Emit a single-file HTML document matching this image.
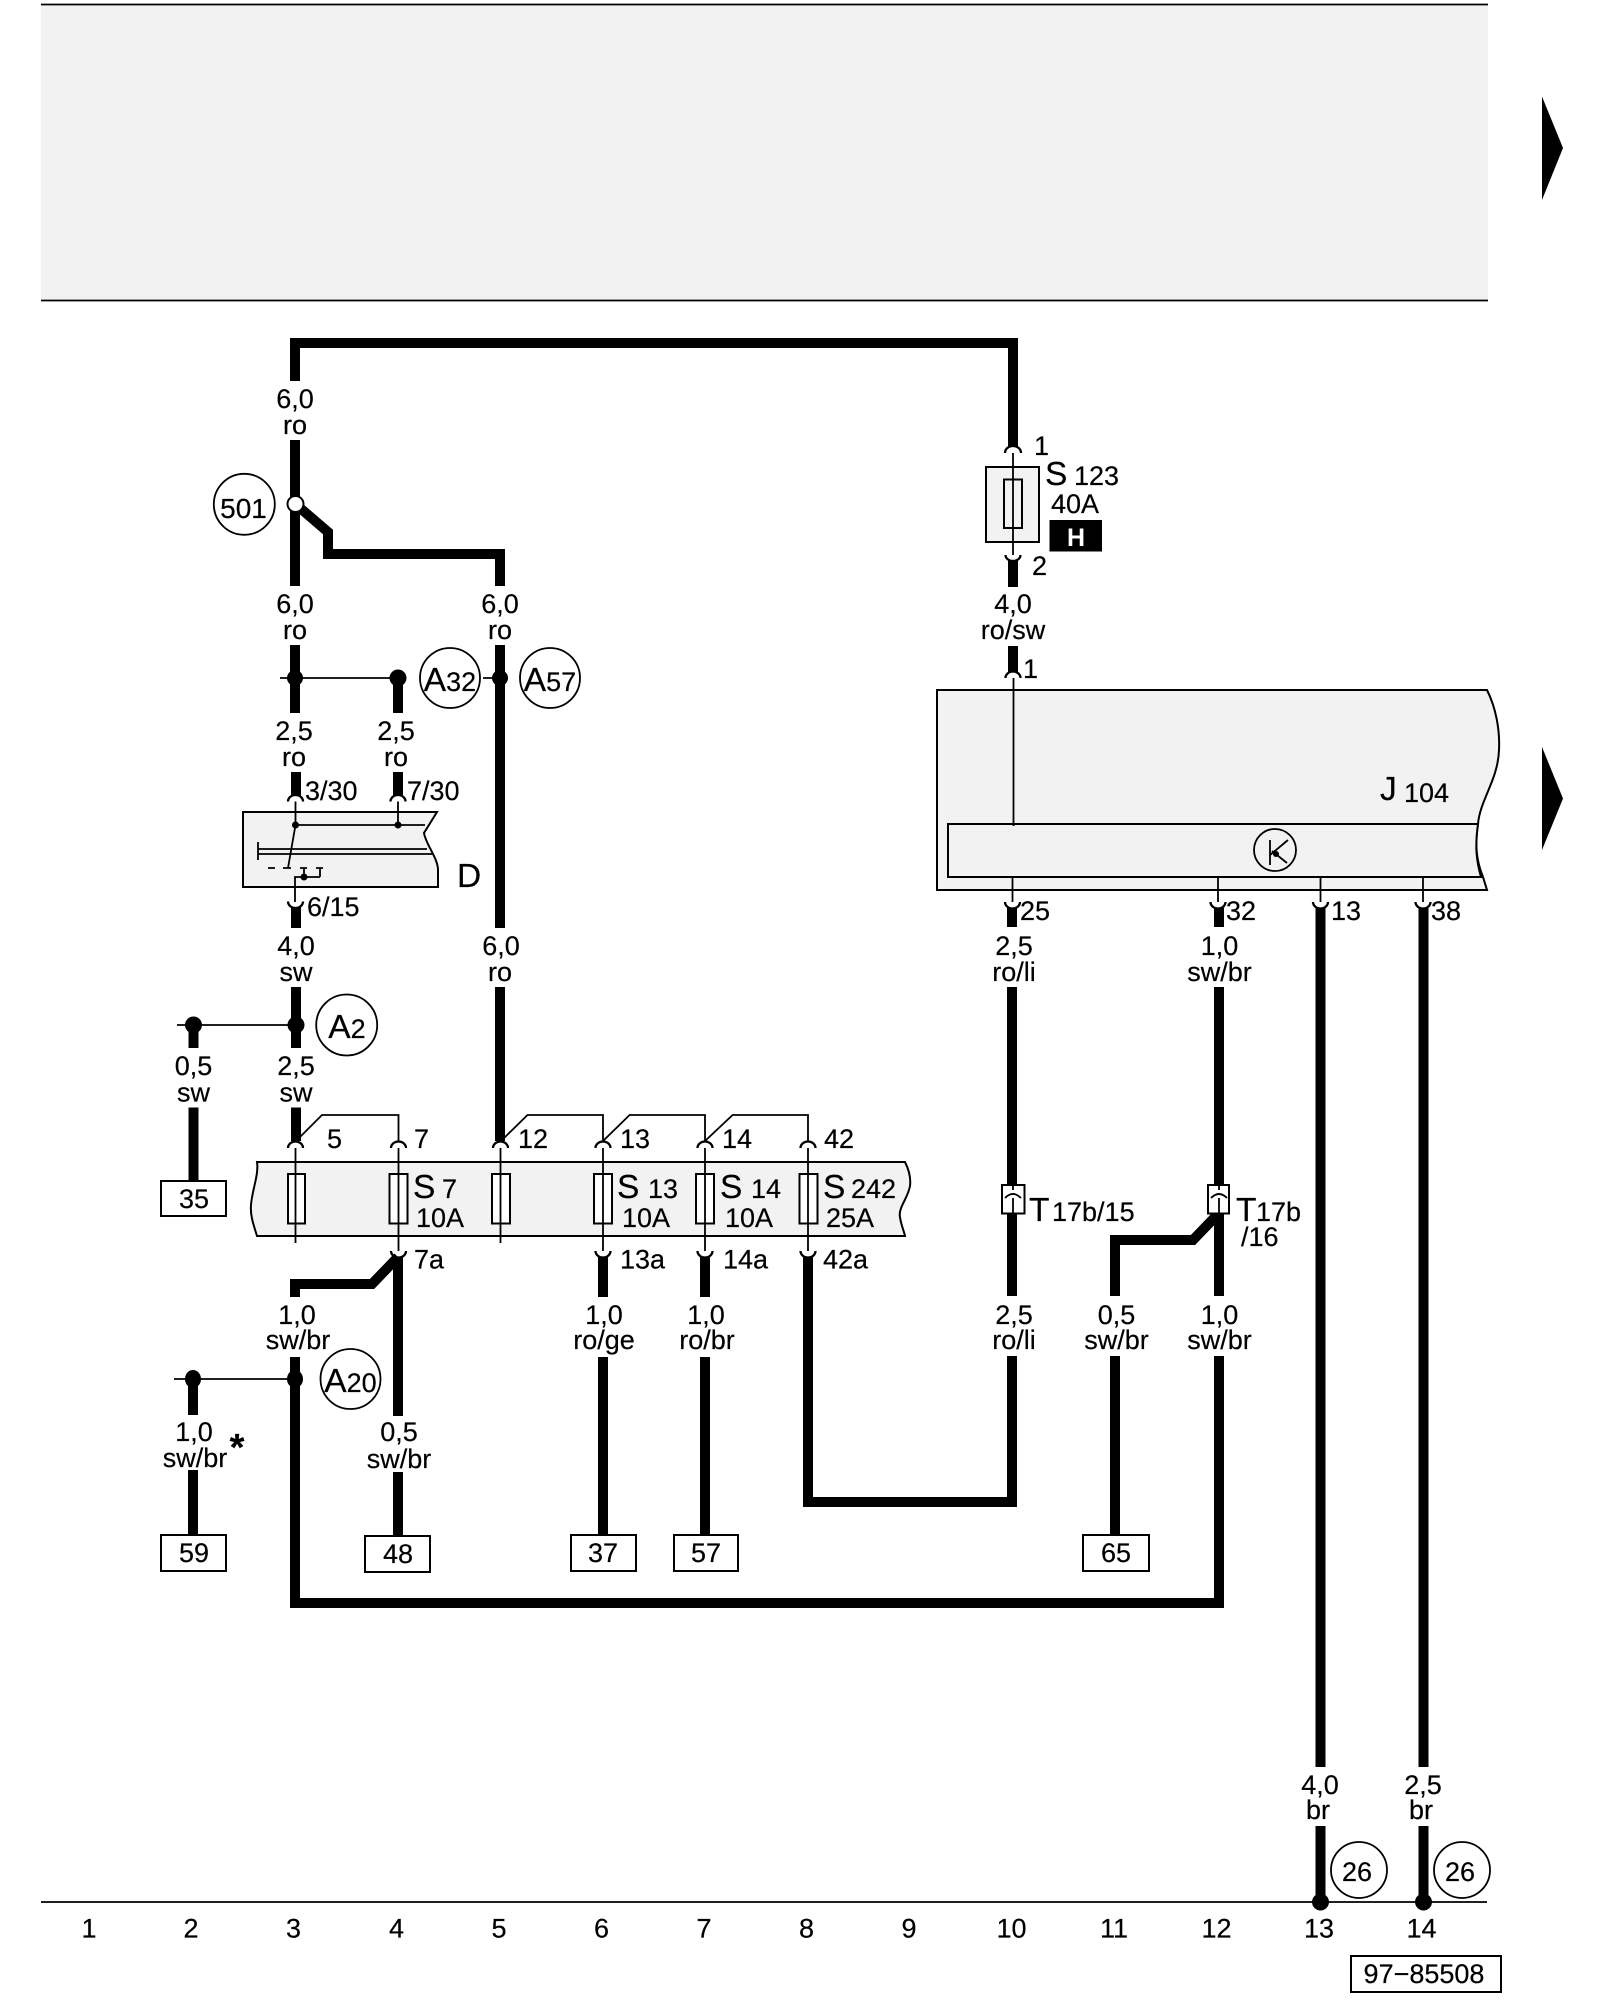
<!DOCTYPE html>
<html><head><meta charset="utf-8"><style>
html,body{margin:0;padding:0;background:#fff;width:1600px;height:2000px;overflow:hidden}
svg{display:block}
text{font-family:"Liberation Sans",sans-serif;font-size:27px;fill:#000;stroke:#000;stroke-width:.2}
.m{text-anchor:middle}
.b{font-size:33.5px}
.w{fill:none;stroke:#000;stroke-width:10;stroke-linejoin:miter}
.t{fill:none;stroke:#000;stroke-width:1.8}
.k{fill:none;stroke:#000;stroke-width:2.3}
.c{fill:#fff;stroke:#000;stroke-width:1.8}
.g{fill:#f2f2f2;stroke:#000;stroke-width:2}
.n{fill:#fff;stroke:#000;stroke-width:2}
</style></head><body>
<svg width="1600" height="2000" viewBox="0 0 1600 2000" xmlns="http://www.w3.org/2000/svg">
<!-- top panel -->
<rect x="41" y="4" width="1447" height="296" fill="#f2f2f2"/>
<path class="t" d="M41 4.500H1488M41 300.500H1488"/>
<polygon points="1542,96.500 1563,148 1542,200" fill="#000"/>
<polygon points="1542,747 1563,798.500 1542,850" fill="#000"/>
<!-- thick wires -->
<path class="w" d="M295 381V343H1013V447"/>
<path class="w" d="M295 440V586"/>
<path class="w" d="M300 508L328 532V554H500V586"/>
<path class="w" d="M295 645V713M398 678V713M500 645V928M500 987V1141"/>
<path class="w" d="M296 772V796M398 772V796M296 907V928M296 987V1048M296 1107.500V1141"/>
<path class="w" d="M193.500 1025V1048M193.500 1107.500V1180"/>
<path class="w" d="M398 1257V1416M398 1472V1535"/>
<path class="w" d="M398 1257L372 1284H295V1297"/>
<path class="w" d="M295 1357V1603H1219V1356"/>
<path class="w" d="M193 1379V1415M193 1470V1535"/>
<path class="w" d="M603 1257V1297M603 1357V1535M705 1257V1297M705 1357V1535"/>
<path class="w" d="M808 1257V1502H1012V1356"/>
<path class="w" d="M1012 1296V987M1012 927V908M1219 927V908M1219 1296V987"/>
<path class="w" d="M1219 1213L1193 1240H1115V1296M1115 1356V1535"/>
<path class="w" d="M1320.500 908V1767M1320.500 1826V1902M1423.500 908V1767M1423.500 1826V1902"/>
<path class="w" d="M1013 561V587M1013 646V672"/>
<!-- node dots -->
<circle cx="295.500" cy="504" r="8" fill="#fff" stroke="#000" stroke-width="2"/>
<g fill="#000">
<circle cx="295" cy="678" r="8"/><circle cx="398" cy="678" r="8.500"/><circle cx="500" cy="678" r="8"/>
<circle cx="296" cy="1025" r="8.500"/><circle cx="193.500" cy="1025" r="8.500"/>
<ellipse cx="295" cy="1379" rx="8" ry="9"/><ellipse cx="193" cy="1379" rx="8" ry="9"/>
<circle cx="1320.500" cy="1902" r="8.500"/><circle cx="1423.500" cy="1902" r="8.500"/>
</g>
<path class="t" d="M280 678H398M483 678H500M177 1025H296M174 1379H295"/>
<path class="t" d="M41 1902H1487"/>
<!-- D relay -->
<path class="g" d="M243 812H437L424 833C426 845 438 858 438 870V887H243Z"/>
<path class="t" d="M295.500 801.500V825L288 868M398 801.500V825M295 825H425M258 849H427M258 854H433M258 842V860M268 868H275M283 868H291M300 868H307M316 868H323M304 868V877M320 868V877M295 902V877H320"/>
<circle cx="295.500" cy="825" r="3.500"/><circle cx="398" cy="825" r="3.500"/><circle cx="304" cy="877" r="3.500"/>
<!-- arcs -->
<path class="k" d="M288 801.500A7.500 6.500 0 0 1 303 801.500M390.500 801.500A7.500 6.500 0 0 1 405.500 801.500M288 901.500A7.500 6.500 0 0 0 303 901.500"/>
<path class="k" d="M1005 453A8 7 0 0 1 1021 453M1005.500 678A7.500 6.500 0 0 1 1020.500 678M1005.500 555A7.500 6 0 0 0 1020.500 555"/>
<path class="k" d="M1005 902A7.500 6.500 0 0 0 1020 902M1210.500 902A7.500 6.500 0 0 0 1225.500 902M1313 902A7.500 6.500 0 0 0 1328 902M1415.500 902A7.500 6.500 0 0 0 1430.500 902"/>
<path class="k" d="M288 1148A7.500 6.500 0 0 1 303 1148M391 1148A7.500 6.500 0 0 1 406 1148M493 1148A7.500 6.500 0 0 1 508 1148M595.500 1148A7.500 6.500 0 0 1 610.500 1148M697.500 1148A7.500 6.500 0 0 1 712.500 1148M800.500 1148A7.500 6.500 0 0 1 815.500 1148"/>
<path class="k" d="M391 1251A7.500 6.500 0 0 0 406 1251M595.500 1251A7.500 6.500 0 0 0 610.500 1251M697.500 1251A7.500 6.500 0 0 0 712.500 1251M800.500 1251A7.500 6.500 0 0 0 815.500 1251"/>
<!-- fuse band -->
<path class="t" d="M296 1141L322 1115H398.500V1141M501 1141L527.500 1115H603V1141M603 1141L629.600 1115H705V1141M705 1141L732.600 1115H808V1141"/>
<path class="g" d="M257 1162H905C909 1170 911 1178 910 1186C908 1198 898 1208 900 1217C901 1225 904 1231 905 1236H257C254 1226 250 1216 251 1205C252 1190 259 1175 257 1162Z"/>
<g class="n"><rect x="288" y="1174" width="17" height="49.500"/><rect x="389.500" y="1174" width="18" height="49.500"/><rect x="492" y="1174" width="18" height="49.500"/><rect x="594" y="1174" width="18" height="49.500" /><rect x="696" y="1174" width="18" height="49.500"/><rect x="799.500" y="1174" width="18" height="49.500"/></g>
<path class="t" d="M295.500 1148V1243M398.500 1148V1251M500.500 1148V1243M603 1148V1251M705 1148V1251M808 1148V1251"/>
<!-- S123 -->
<rect class="g" x="986" y="467" width="53" height="75"/>
<rect class="g" x="1004" y="479.500" width="18" height="48.500"/>
<path class="t" d="M1013 453V555"/>
<rect x="1049.500" y="520" width="52.500" height="31.500" fill="#000"/>
<text x="1076" y="546" class="m" style="fill:#fff;stroke:none;font-weight:bold;font-size:25px">H</text>
<!-- J104 -->
<path class="g" d="M937 690H1487C1496 708 1500 730 1499 750C1498 780 1480 800 1478 824C1475 845 1476 860 1483 877L1487 890H937Z"/>
<path class="g" d="M948 824H1478C1475 845 1476 860 1481 877H948Z"/>
<path class="t" d="M1013.500 678V826M1012.500 877V902M1218 877V902M1320.500 877V902M1423 877V902"/>
<circle cx="1275" cy="850" r="21" fill="none" stroke="#000" stroke-width="1.800"/>
<path class="t" d="M1270 840V865M1270 855L1288 840M1272 851L1287 863"/>
<circle cx="1276" cy="854" r="3" fill="#000"/>
<!-- connectors T -->
<rect class="n" x="1002" y="1185" width="22.500" height="28.500"/>
<rect class="n" x="1208" y="1185" width="21" height="28.500"/>
<path class="t" d="M1013 1213V1198M1013 1185V1190M1005 1198Q1013 1190 1021 1198M1219 1213V1198M1219 1185V1190M1211 1198Q1219 1190 1227 1198"/>
<!-- circles -->
<circle class="c" cx="244.300" cy="504.300" r="30.500"/><circle class="c" cx="450" cy="678" r="30"/><circle class="c" cx="550" cy="678" r="30"/>
<circle class="c" cx="346.700" cy="1025" r="30.500"/><circle class="c" cx="350.500" cy="1379" r="30"/>
<circle class="c" cx="1359" cy="1870" r="28"/><circle class="c" cx="1462" cy="1870" r="28"/>
<text x="243.500" y="518" class="m" style="font-size:28px">501</text>
<text x="450" y="691" class="m"><tspan class="b">A</tspan>32</text>
<text x="550" y="691" class="m"><tspan class="b">A</tspan>57</text>
<text x="347" y="1038" class="m"><tspan class="b">A</tspan>2</text>
<text x="350.500" y="1392" class="m"><tspan class="b">A</tspan>20</text>
<text x="1357" y="1881" class="m">26</text><text x="1460" y="1881" class="m">26</text>
<!-- boxes -->
<g class="n"><rect x="161" y="1181" width="65" height="35"/><rect x="161" y="1535" width="65" height="36"/><rect x="365" y="1536" width="65" height="36"/><rect x="571" y="1535" width="65" height="36"/><rect x="674" y="1535" width="64" height="36"/><rect x="1083" y="1535" width="66" height="36"/><rect x="1351" y="1956" width="150" height="36"/></g>
<text x="194" y="1208" class="m">35</text><text x="194" y="1562" class="m">59</text><text x="398" y="1563" class="m">48</text><text x="603" y="1562" class="m">37</text><text x="706" y="1562" class="m">57</text><text x="1116" y="1562" class="m">65</text>
<text x="1424" y="1983" class="m">97−85508</text>
<!-- wire labels -->
<text x="295" y="408" class="m">6,0</text><text x="295" y="434" class="m">ro</text>
<text x="295" y="613" class="m">6,0</text><text x="295" y="639" class="m">ro</text>
<text x="500" y="613" class="m">6,0</text><text x="500" y="639" class="m">ro</text>
<text x="294" y="740" class="m">2,5</text><text x="294" y="766" class="m">ro</text>
<text x="396" y="740" class="m">2,5</text><text x="396" y="766" class="m">ro</text>
<text x="296" y="955" class="m">4,0</text><text x="296" y="981" class="m">sw</text>
<text x="501" y="955" class="m">6,0</text><text x="500" y="981" class="m">ro</text>
<text x="193.500" y="1075" class="m">0,5</text><text x="193.500" y="1101.500" class="m">sw</text>
<text x="296" y="1075" class="m">2,5</text><text x="296" y="1101.500" class="m">sw</text>
<text x="297" y="1324" class="m">1,0</text><text x="298" y="1349" class="m">sw/br</text>
<text x="194" y="1441" class="m">1,0</text><text x="195" y="1467" class="m">sw/br</text>
<text x="399" y="1441" class="m">0,5</text><text x="399" y="1468" class="m">sw/br</text>
<text x="604" y="1324" class="m">1,0</text><text x="604" y="1349" class="m">ro/ge</text>
<text x="706" y="1324" class="m">1,0</text><text x="707" y="1349" class="m">ro/br</text>
<text x="1014" y="1324" class="m">2,5</text><text x="1014" y="1349" class="m">ro/li</text>
<text x="1116.500" y="1324" class="m">0,5</text><text x="1116.500" y="1349" class="m">sw/br</text>
<text x="1219.500" y="1324" class="m">1,0</text><text x="1219.500" y="1349" class="m">sw/br</text>
<text x="1013" y="613" class="m">4,0</text><text x="1013" y="639" class="m">ro/sw</text>
<text x="1014" y="955" class="m">2,5</text><text x="1014" y="981" class="m">ro/li</text>
<text x="1219.500" y="955" class="m">1,0</text><text x="1219.500" y="981" class="m">sw/br</text>
<text x="1320" y="1794" class="m">4,0</text><text x="1318" y="1819" class="m">br</text>
<text x="1423" y="1794" class="m">2,5</text><text x="1421" y="1819" class="m">br</text>
<text x="237" y="1460" class="m" style="font-size:38px;font-weight:bold">*</text>
<!-- pin labels -->
<text x="305" y="800">3/30</text><text x="407" y="800">7/30</text><text x="307" y="916">6/15</text>
<text x="1034" y="455">1</text><text x="1032" y="575">2</text><text x="1023" y="678">1</text>
<text x="1020" y="920">25</text><text x="1226" y="920">32</text><text x="1331" y="920">13</text><text x="1431" y="920">38</text>
<text x="327" y="1148">5</text><text x="414" y="1148">7</text><text x="518" y="1148">12</text><text x="620" y="1148">13</text><text x="722" y="1148">14</text><text x="824" y="1148">42</text>
<text x="414" y="1268.500">7a</text><text x="620" y="1268.500">13a</text><text x="723" y="1268.500">14a</text><text x="823" y="1268.500">42a</text>
<!-- component labels -->
<text x="457" y="887" class="b">D</text>
<text x="1045" y="485" class="b">S</text><text x="1074" y="485">123</text><text x="1051" y="513">40A</text>
<text x="1380" y="800" class="b">J</text><text x="1404" y="802">104</text>
<text x="413" y="1198" class="b">S</text><text x="442" y="1198">7</text><text x="416" y="1227">10A</text>
<text x="617" y="1198" class="b">S</text><text x="648" y="1198">13</text><text x="622" y="1227">10A</text>
<text x="720" y="1198" class="b">S</text><text x="751" y="1198">14</text><text x="725" y="1227">10A</text>
<text x="823" y="1198" class="b">S</text><text x="851" y="1198">242</text><text x="826" y="1227">25A</text>
<text x="1029" y="1221" class="b">T</text><text x="1052" y="1221">17b/15</text>
<text x="1236" y="1221" class="b">T</text><text x="1256" y="1221">17b</text><text x="1241" y="1246">/16</text>
<!-- column numbers -->
<text x="89" y="1937.500" class="m">1</text><text x="191" y="1937.500" class="m">2</text><text x="293.500" y="1937.500" class="m">3</text><text x="396.500" y="1937.500" class="m">4</text><text x="499" y="1937.500" class="m">5</text><text x="601.500" y="1937.500" class="m">6</text><text x="704" y="1937.500" class="m">7</text><text x="806.500" y="1937.500" class="m">8</text><text x="909" y="1937.500" class="m">9</text><text x="1011.500" y="1937.500" class="m">10</text><text x="1114" y="1937.500" class="m">11</text><text x="1216.500" y="1937.500" class="m">12</text><text x="1319" y="1937.500" class="m">13</text><text x="1421.500" y="1937.500" class="m">14</text>
</svg>
</body></html>
